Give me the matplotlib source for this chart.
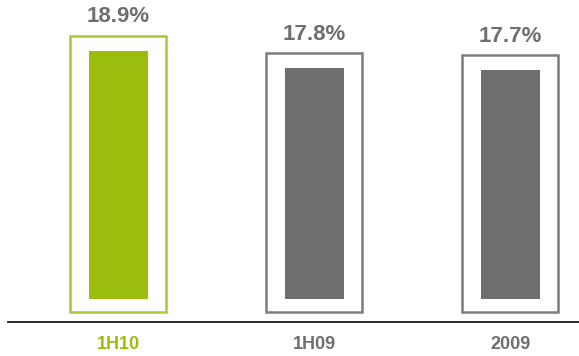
import matplotlib.pyplot as plt
from matplotlib.patches import Rectangle

# margen de EBITDA por periodo
periodos = ['1H10', '1H09', '2009']
margen = [18.9, 17.8, 17.7]
colores = ['#9bbe0e', '#6d6e70', '#6d6e70']
bordes = ['#a6c83a', '#7d7d7f', '#7d7d7f']
textos = ['#9bbe0e', '#6d6e70', '#6d6e70']

base = 3.48      # arranque de las barras (eje truncado)
pad_y = 0.93     # separacion vertical del recuadro
ancho = 0.30
ancho_marco = 0.49

fig = plt.figure(figsize=(5.79, 3.56), dpi=100)
ax = fig.add_axes([8 / 579, 34.3 / 356, 571 / 579, 321.7 / 356])

ax.bar(range(len(periodos)), [v - base for v in margen], bottom=base,
       width=ancho, color=colores, zorder=2)

for i, v in enumerate(margen):
    ax.add_patch(Rectangle((i - ancho_marco / 2, base - 0.79),
                           ancho_marco, v - base + 0.79 + pad_y,
                           fill=False, edgecolor=bordes[i], lw=1.8, zorder=3))
    ax.annotate(f'{v}%', xy=(i, v + pad_y), xytext=(0, 13.7),
                textcoords='offset points', ha='center', va='center',
                fontsize=16, fontweight='bold', color='#6d6e70',
                family='Liberation Sans')
    ax.annotate(periodos[i], xy=(i, 0), xycoords=ax.get_xaxis_transform(),
                xytext=(0, -16.6), textcoords='offset points',
                ha='center', va='center', fontsize=13, fontweight='bold',
                color=textos[i], family='Liberation Sans')

ax.set_xlim(-0.563, 2.35)
ax.set_ylim(2.07, 22.05)
ax.set_xticks([])
ax.set_yticks([])
for lado in ['top', 'right', 'left']:
    ax.spines[lado].set_visible(False)
ax.spines['bottom'].set_color('#1a1a1a')
ax.spines['bottom'].set_linewidth(1.3)

fig.savefig('out.png', dpi=100)
